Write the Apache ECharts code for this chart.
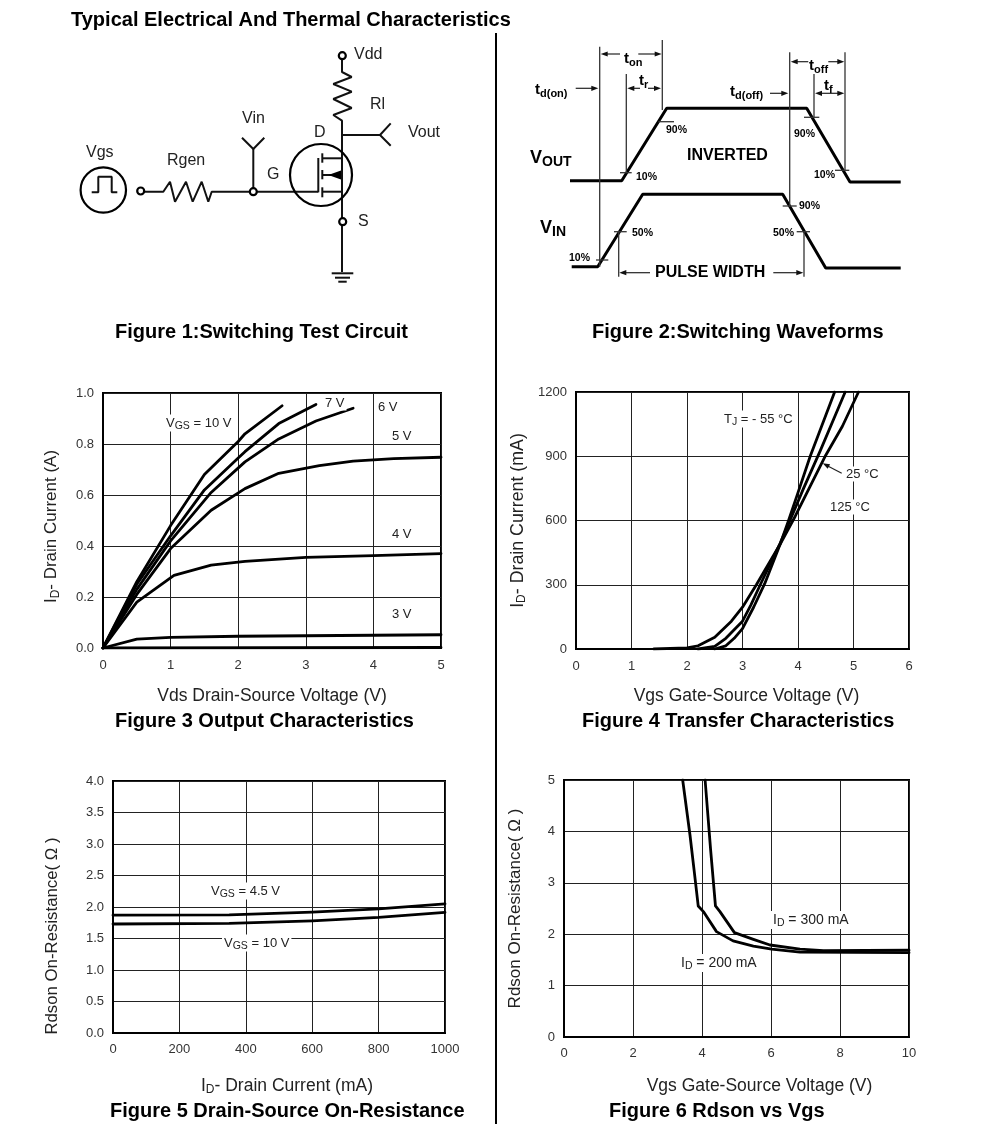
<!DOCTYPE html>
<html><head><meta charset="utf-8">
<script src="https://cdn.jsdelivr.net/npm/echarts@6/dist/echarts.min.js"></script>
<style>html,body{margin:0;padding:0;background:#fff}#c{width:991px;height:1142px}</style>
</head><body><div id="c"></div>
<script>
// Figure 3 : Output characteristics [Vds, Id]
const vgs10 = [[0,0],[0.5,0.26],[1,0.48],[1.5,0.68],[2,0.81],[2.1,0.84],[2.65,0.95]];
const vgs7  = [[0,0],[0.5,0.25],[1,0.44],[1.5,0.62],[2,0.745],[2.1,0.77],[2.6,0.88],[3.15,0.955]];
const vgs6  = [[0,0],[0.5,0.23],[1,0.42],[1.6,0.61],[2.1,0.73],[2.6,0.82],[3.15,0.89],[3.7,0.94]];
const vgs5  = [[0,0],[0.5,0.21],[1,0.39],[1.6,0.54],[2.1,0.625],[2.6,0.685],[3.2,0.715],[3.7,0.733],[4.3,0.743],[5,0.748]];
const vgs4  = [[0,0],[0.5,0.18],[1.05,0.285],[1.6,0.325],[2.1,0.34],[3,0.355],[4,0.362],[5,0.37]];
const vgs3  = [[0,0],[0.5,0.035],[1,0.042],[2,0.046],[3,0.048],[5,0.052]];
const vgs2  = [[0,0],[5,0.002]];
// Figure 4 : Transfer characteristics [Vgs, Id mA]
const tjM55 = [[2.5,0],[2.7,15],[2.85,50],[3,95],[3.2,195],[3.4,305],[3.68,490],[3.83,600],[4,730],[4.22,900],[4.66,1200]];
const tj25  = [[2.2,0],[2.5,12],[2.7,50],[3,130],[3.15,205],[3.32,300],[3.68,495],[3.88,615],[4.1,750],[4.4,925],[4.85,1200]];
const tj125 = [[1.4,0],[2,5],[2.2,15],[2.5,55],[2.8,130],[3,195],[3.25,300],[3.68,490],[3.95,620],[4.2,750],[4.5,905],[4.8,1040],[5.09,1200]];
// Figure 5 : On-resistance vs drain current [Id mA, Rds]
const rds45 = [[0,1.87],[350,1.875],[600,1.92],[800,1.97],[1000,2.05]];
const rds10 = [[0,1.73],[350,1.74],[600,1.78],[800,1.835],[1000,1.915]];
// Figure 6 : Rdson vs Vgs [Vgs, Rds]
const id200 = [[3.44,5],[3.65,3.94],[3.77,3.25],[3.89,2.55],[4.04,2.44],[4.42,2.05],[4.9,1.87],[5.49,1.77],[6.02,1.71],[6.84,1.65],[10,1.64]];
const id300 = [[4.09,5],[4.25,3.64],[4.39,2.55],[4.52,2.44],[4.94,2.03],[5.49,1.9],[5.97,1.79],[6.84,1.71],[7.52,1.68],[10,1.69]];
// Figure 2 : waveforms on the diagram's own scale
const vOut = [[570,180.7],[621.7,180.7],[666.7,108.3],[806.7,108.3],[850,182],[900.7,182]];
const vIn  = [[571.7,266.7],[597.7,266.7],[642.7,194.3],[782.7,194.3],[825.7,268],[900.7,268]];
const waveMarks = [
 [[599.7,46.7],[599.7,266.7]],[[662.3,40],[662.3,110]],[[626.3,74],[626.3,173]],[[789.7,52.3],[789.7,206.7]],
 [[814,74],[814,117]],[[845,52.3],[845,170]],[[618.7,231.7],[618.7,276.7]],[[804,231.7],[804,276.7]],
 [[620,172.7],[631.7,172.7]],[[658.3,121.7],[674,121.7]],[[804,117.3],[819.3,117.3]],[[835,170.3],[849.3,170.3]],
 [[782.7,206],[796.7,206]],[[614,231.7],[626.7,231.7]],[[796.7,231.7],[810,231.7]],[[596,260],[608.3,260]]];
// [from, to] : arrow head at "to"
const waveArrows = [
 [[620,54],[600.7,54]],[[638.3,54],[661.7,54]],[[640,88.3],[627.3,88.3]],[[648,88.3],[661,88.3]],
 [[575.7,88.3],[598.3,88.3]],[[770,93.3],[788.3,93.3]],[[808.3,61.7],[790.7,61.7]],[[828.3,61.7],[844.3,61.7]],
 [[830,93.3],[815,93.3]],[[830,93.3],[844.3,93.3]],[[650,272.7],[619.3,272.7]],[[773.3,272.7],[803.3,272.7]],
 [[841.7,473.3],[822.7,463.3]]];
// Figure 1 : schematic
const wires = [
 [[342,59],[342,72],[351.7,77],[333.3,84],[351.7,91.7],[333.3,99],[351.7,108],[333.3,115],[342,120.7],[342,218]],
 [[342,225],[342,272]],[[331.7,273.3],[353.3,273.3]],[[335,277.7],[350,277.7]],[[338.3,281.7],[346.7,281.7]],
 [[342,135],[380,135]],[[390.7,123.3],[380,135],[390.7,145.7]],
 [[253.3,188],[253.3,149]],[[242,137.7],[253.3,149],[264.3,137.7]],
 [[144,191.7],[163.3,191.7],[170,181.7],[175,201.7],[186,181.7],[192.7,201.7],[201.7,181.7],[208.3,201.7],[211.7,191.7],[249.5,191.7]],
 [[257,191.7],[318.3,191.7]],[[318.3,158],[318.3,192.3]],
 [[322.3,153.3],[322.3,162.7]],[[322.3,170],[322.3,179.3]],[[322.3,187.3],[322.3,197.3]],
 [[322.3,158.3],[342,158.3]],[[322.3,175],[342,175]],[[322.3,191.7],[342,191.7]],
 [[91.7,192.3],[98.3,192.3],[98.3,176.7],[111.7,176.7],[111.7,192.3],[117.3,192.3]]];
const rings = [[342.3,55.7,3.5],[342.7,221.7,3.5],[253.3,191.7,3.5],[140.7,191,3.5],[321,175,31],[103.3,190,22.7]];
const solid = [[[328.3,175],[341,170.5],[341,179.5]]];
const sep = [[[496,33],[496,1124]]];

const SANS = '"Liberation Sans",Arial,sans-serif';
const sub = (size, subSize, weight, color) => ({
  b:{fontFamily:SANS,fontSize:size,fontWeight:weight,fill:color,color:color,lineHeight:size+2},
  s:{fontFamily:SANS,fontSize:subSize,fontWeight:weight,fill:color,color:color,padding:[Math.round(size*0.45),0,0,0],lineHeight:size+2}
});
function T(x,y,text,size,opt={}){
  const weight = opt.bold?'bold':'normal', color = opt.color||'#000';
  const st = {x:x,y:y,text:text,fontFamily:SANS,fontSize:size,fontWeight:weight,fill:color,align:opt.align||'left',verticalAlign:'middle'};
  if(opt.sub) st.rich = sub(size,opt.sub,weight,color);
  if(opt.bg){st.backgroundColor='#fff';st.padding=[1,2,1,2];}
  return {type:'text',z:20,style:st};
}
const note = {bg:1,color:'#222'}, noteSub = {sub:10.5,bg:1,color:'#222'};
const texts = [
 T(71,20,'Typical Electrical And Thermal Characteristics',20,{bold:1}),
 T(115,332,'Figure 1:Switching Test Circuit',20,{bold:1}),
 T(592,332,'Figure 2:Switching Waveforms',20,{bold:1}),
 T(115,721,'Figure 3 Output Characteristics',20,{bold:1}),
 T(582,721,'Figure 4 Transfer Characteristics',20,{bold:1}),
 T(110,1111,'Figure 5 Drain-Source On-Resistance',20,{bold:1}),
 T(609,1111,'Figure 6 Rdson vs Vgs',20,{bold:1}),
 // schematic
 T(354,55,'Vdd',16,{color:'#222'}),T(370,105,'Rl',16,{color:'#222'}),T(242,119,'Vin',16,{color:'#222'}),
 T(314,133,'D',16,{color:'#222'}),T(408,133,'Vout',16,{color:'#222'}),T(267,175,'G',16,{color:'#222'}),
 T(86,153,'Vgs',16,{color:'#222'}),T(167,161,'Rgen',16,{color:'#222'}),T(358,222,'S',16,{color:'#222'}),
 // waveforms
 T(535,90,'{b|t}{s|d(on)}',15,{bold:1,sub:11}),T(624,59,'{b|t}{s|on}',15,{bold:1,sub:11}),T(639,81,'{b|t}{s|r}',15,{bold:1,sub:11}),
 T(730,92,'{b|t}{s|d(off)}',15,{bold:1,sub:11}),T(809,66,'{b|t}{s|off}',15,{bold:1,sub:11}),T(824,86,'{b|t}{s|f}',15,{bold:1,sub:11}),
 T(530,158,'{b|V}{s|OUT}',18,{bold:1,sub:14}),T(540,228,'{b|V}{s|IN}',18,{bold:1,sub:14}),
 T(687,156,'INVERTED',16,{bold:1}),T(655,273,'PULSE WIDTH',16,{bold:1}),
 T(666,130,'90%',10.5,{bold:1}),T(794,134,'90%',10.5,{bold:1}),T(636,177,'10%',10.5,{bold:1}),T(814,175,'10%',10.5,{bold:1}),
 T(799,206,'90%',10.5,{bold:1}),T(632,233,'50%',10.5,{bold:1}),T(773,233,'50%',10.5,{bold:1}),T(569,258,'10%',10.5,{bold:1}),
 // chart notes
 T(164,423,'{b|V}{s|GS}{b| = 10 V}',13,noteSub),T(323,403,'7 V',13,note),T(376,407,'6 V',13,note),
 T(390,436,'5 V',13,note),T(390,534,'4 V',13,note),T(390,614,'3 V',13,note),
 T(722,419,'{b|T}{s|J}{b| = - 55 °C}',13,noteSub),T(844,474,'25 °C',13,note),T(828,507,'125 °C',13,note),
 T(209,891,'{b|V}{s|GS}{b| = 4.5 V}',13,noteSub),T(222,943,'{b|V}{s|GS}{b| = 10 V}',13,noteSub),
 T(771,920,'{b|I}{s|D}{b| = 300 mA}',14,noteSub),T(679,963,'{b|I}{s|D}{b| = 200 mA}',14,noteSub)
];

const grids = [
 {left:103,top:393,width:338,height:255},
 {left:576,top:392,width:333,height:257},
 {left:113,top:781,width:332,height:252},
 {left:564,top:780,width:345,height:257}
].map(g=>Object.assign(g,{show:true,borderColor:'#000',borderWidth:2,backgroundColor:'#fff'}));
grids.push({left:0,top:0,width:991,height:1142,show:false});

const labelStyle = {fontFamily:SANS,fontSize:13,color:'#333'};
function axis(idx,min,max,interval,name,gap,pad,nameSize,margin,digits){
  return {gridIndex:idx,type:'value',min,max,interval,name,nameLocation:'middle',nameGap:gap,
    nameTextStyle:{fontFamily:SANS,fontSize:nameSize,color:'#222',rich:sub(nameSize,12,'normal','#222'),padding:pad},
    axisLine:{show:true,lineStyle:{color:'#000',width:2}},axisTick:{show:false},
    axisLabel:Object.assign({},labelStyle,{margin,formatter:v=>v.toFixed(digits||0),showMinLabel:true,showMaxLabel:true}),
    splitLine:{show:true,lineStyle:{color:'#222',width:1}}};
}
const xAxes = [
 axis(0,0,5,1,'{b|Vds Drain-Source Voltage (V)}',38,[0,0,0,0],17.5,10.5),
 axis(1,0,6,1,'{b|Vgs Gate-Source Voltage (V)}',37,[0,0,0,8],17.5,10.5),
 axis(2,0,1000,200,'{b|I}{s|D}{b|- Drain Current (mA)}',43,[0,0,0,16],17.5,10),
 axis(3,0,10,2,'{b|Vgs Gate-Source Voltage (V)}',39,[0,0,0,46],17.5,10),
 {gridIndex:4,type:'value',min:0,max:991,show:false}
];
const yAxes = [
 axis(0,0,1,0.2,'{b|I}{s|D}{b|- Drain Current (A)}',42,[0,12,0,0],17,9,1),
 axis(1,0,1200,300,'{b|I}{s|D}{b|- Drain Current (mA)}',48,[0,0,0,0],17.8,9),
 axis(2,0,4,0.5,'{b|Rdson On-Resistance( Ω )}',51,[0,58,0,0],16.8,9,1),
 axis(3,0,5,1,'{b|Rdson On-Resistance( Ω )}',39,[0,0,0,0],17,9),
 {gridIndex:4,type:'value',min:0,max:1142,inverse:true,show:false}
];
const curve = (g,name,data)=>({type:'line',name,data,xAxisIndex:g,yAxisIndex:g,symbol:'none',smooth:false,
  lineStyle:{color:'#000',width:2.8,join:'round',cap:'round'},z:5,silent:true,animation:false});
const mark = (data,w,color)=>({type:'line',data,xAxisIndex:4,yAxisIndex:4,symbol:'none',clip:false,
  lineStyle:{color,width:w},z:6,animation:false,silent:true});

const drawn = {
 type:'custom',xAxisIndex:4,yAxisIndex:4,clip:false,z:7,silent:true,animation:false,
 data:rings.concat(solid,waveArrows).map((_,i)=>[i,i]),
 renderItem(params,api){
   const i=params.dataIndex;
   if(i<rings.length){
     const r=rings[i],c=api.coord([r[0],r[1]]);
     return {type:'circle',shape:{cx:c[0],cy:c[1],r:r[2]},style:{fill:r[2]>10?'none':'#fff',stroke:'#000',lineWidth:2.2}};
   }
   if(i<rings.length+solid.length){
     return {type:'polygon',shape:{points:solid[i-rings.length].map(p=>api.coord(p))},style:{fill:'#000'}};
   }
   const a=waveArrows[i-rings.length-solid.length],p=api.coord(a[0]),q=api.coord(a[1]);
   const dx=q[0]-p[0],dy=q[1]-p[1],l=Math.hypot(dx,dy),ux=dx/l,uy=dy/l;
   return {type:'group',children:[
     {type:'line',shape:{x1:p[0],y1:p[1],x2:q[0]-ux*3,y2:q[1]-uy*3},style:{stroke:'#222',lineWidth:1.2}},
     {type:'polygon',shape:{points:[q,[q[0]-ux*7-uy*2.6,q[1]-uy*7+ux*2.6],[q[0]-ux*7+uy*2.6,q[1]-uy*7-ux*2.6]]},style:{fill:'#111'}}
   ]};
 }
};

const series = [
 curve(0,'10 V',vgs10),curve(0,'7 V',vgs7),curve(0,'6 V',vgs6),curve(0,'5 V',vgs5),curve(0,'4 V',vgs4),curve(0,'3 V',vgs3),curve(0,'2 V',vgs2),
 curve(1,'-55 °C',tjM55),curve(1,'25 °C',tj25),curve(1,'125 °C',tj125),
 curve(2,'VGS = 4.5 V',rds45),curve(2,'VGS = 10 V',rds10),
 curve(3,'ID = 200 mA',id200),curve(3,'ID = 300 mA',id300),
 mark(vOut,3,'#000'),mark(vIn,3,'#000'),
 ...waveMarks.map(m=>mark(m,1.3,'#333')),
 ...wires.map(w=>mark(w,2,'#111')),
 ...sep.map(s=>mark(s,2,'#000')),
 drawn
];

const chart = echarts.init(document.getElementById('c'),null,{renderer:'canvas'});
chart.setOption({backgroundColor:'#fff',animation:false,tooltip:{show:false},grid:grids,xAxis:xAxes,yAxis:yAxes,series,graphic:{elements:texts}});
</script></body></html>
